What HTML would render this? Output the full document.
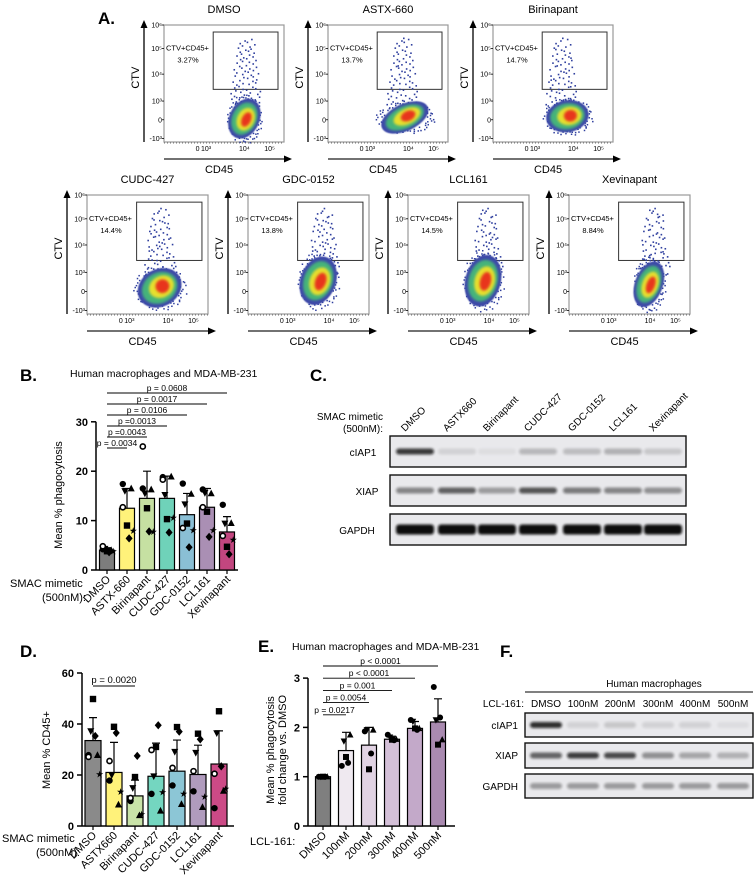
<!DOCTYPE html>
<html><head><meta charset="utf-8">
<style>
html,body{margin:0;padding:0;background:#fff;}
svg{display:block;font-family:"Liberation Sans",Arial,sans-serif;}
</style></head>
<body>
<svg id="fig" width="756" height="880" viewBox="0 0 756 880" xmlns="http://www.w3.org/2000/svg">
<defs>
<filter id="blur2" x="-50%" y="-50%" width="200%" height="200%"><feGaussianBlur stdDeviation="2.2"/></filter>
<filter id="blur1" x="-50%" y="-50%" width="200%" height="200%"><feGaussianBlur stdDeviation="1.2"/></filter>
<filter id="blur05" x="-50%" y="-50%" width="200%" height="200%"><feGaussianBlur stdDeviation="0.6"/></filter>
</defs>
<g id="panelA"></g>
<g id="panelB"></g>
<g id="panelC"></g>
<g id="panelD"></g>
<g id="panelE"></g>
<g id="panelF"></g>
</svg>
<script>
// ---------- Panel B data ----------
const bCategories = ["DMSO","ASTX-660","Birinapant","CUDC-427","GDC-0152","LCL161","Xevinapant"];
const bMeans = [4.0, 12.5, 14.5, 14.5, 11.2, 12.7, 7.7];
const bErrTop = [4.5, 16.5, 20.0, 19.0, 15.5, 16.5, 10.8];
const bColors = ["#7d7d7d","#fff27a","#c6e0a2","#6fd2b9","#8abfd5","#aa8fb4","#c2467f"];
const bPoints = [
 [4.2,3.8,4.0,4.3,3.6,3.9,4.8],
 [17.4,9.0,16.5,16.0,6.4,8.0,12.7],
 [16.5,12.5,16.3,15.5,7.8,7.8,25.0],
 [18.8,10.3,18.9,15.2,7.6,10.6,18.3],
 [17.5,9.4,15.4,13.3,4.6,8.1,8.5],
 [16.3,11.8,15.5,15.6,6.7,8.1,12.7],
 [13.2,4.7,9.5,9.4,3.2,6.2,6.9]
];
const bTicks = [0,10,20,30];
const bPvals = ["p = 0.0608","p = 0.0017","p = 0.0106","p =0.0013","p =0.0043","p = 0.0034"];
const bPTargets = [6,5,4,3,2,1];

// ---------- Panel D data ----------
const dCategories = ["DMSO","ASTX660","Birinapant","CUDC-427","GDC-0152","LCL161","Xevinapant"];
const dMeans = [33.5, 21.0, 11.8, 19.5, 21.5, 20.2, 24.3];
const dErrTop = [42.5, 32.8, 18.0, 32.5, 33.7, 31.7, 37.3];
const dColors = ["#8a8a8a","#fff27a","#c9e3a8","#74d6c0","#8cc6d6","#b09bbd","#cc4a86"];
const dPoints = [
 [27.8,49.8,27.8,37.2,35.3,20.4,27.1],
 [17.8,38.9,8.4,20.0,36.5,13.6,25.5],
 [9.8,19.2,4.2,14.9,27.5,4.8,11.0],
 [12.6,31.0,6.0,19.5,39.5,13.3,29.8],
 [15.9,38.8,8.6,29.1,37.0,12.7,22.8],
 [13.6,36.2,7.4,28.7,34.0,11.5,21.5],
 [7.0,45.0,13.8,36.4,23.4,14.7,20.5]
];
const dTicks = [0,20,40,60];

// ---------- Panel E data ----------
const eCategories = ["DMSO","100nM","200nM","300nM","400nM","500nM"];
const eMeans = [1.0, 1.53, 1.64, 1.76, 1.98, 2.11];
const eErrTop = [1.02, 1.90, 2.00, 1.82, 2.12, 2.58];
const eColors = ["#7f7f7f","#efe9f0","#e1d3e3","#d4c0d8","#c3a9c9","#a98ab0"];
const ePoints = [
 [1.0,1.0,1.0,1.0,1.0],
 [1.22,1.40,1.85,1.72,1.28],
 [1.92,1.15,1.95,1.95,1.47],
 [1.85,1.75,1.76,1.80,1.74],
 [2.15,1.98,1.98,2.12,1.95],
 [2.82,1.65,1.75,2.15,2.20]
];
const eTicks = [0,1,2,3];
const ePvals = ["p < 0.0001","p < 0.0001","p = 0.001","p = 0.0054","p = 0.0217"];
const ePTargets = [5,4,3,2,1];

// ---------- blot data ----------
const cLanes = ["DMSO","ASTX660","Birinapant","CUDC-427","GDC-0152","LCL161","Xevinapant"];
const cCiap1 = [0.8,0.1,0.05,0.22,0.2,0.25,0.15];
const cXiap = [0.45,0.62,0.35,0.68,0.5,0.45,0.4];
const cGapdh = [1,1,1,1,1,1,1];
const fLanes = ["DMSO","100nM","200nM","300nM","400nM","500nM"];
const fCiap1 = [0.85,0.1,0.15,0.1,0.1,0.05];
const fXiap = [0.6,0.78,0.72,0.4,0.3,0.25];
const fGapdh = [0.35,0.35,0.35,0.35,0.35,0.35];

const NS = "http://www.w3.org/2000/svg";
function mk(parent, tag, attrs, text){
  const e = document.createElementNS(NS, tag);
  for (const k in attrs) e.setAttribute(k, attrs[k]);
  if (text !== undefined) e.textContent = text;
  parent.appendChild(e);
  return e;
}
function label(parent, x, y, txt, size, opts){
  opts = opts || {};
  const t = mk(parent, "text", {x:x, y:y, "font-size":size, fill:"#000",
    "text-anchor":opts.anchor||"start", "font-weight":opts.bold?"bold":"normal"}, txt);
  if (opts.rot !== undefined) t.setAttribute("transform", "rotate("+opts.rot+" "+x+" "+y+")");
  return t;
}
function halton(i, b){ let f=1, r=0; while(i>0){ f/=b; r+=f*(i%b); i=Math.floor(i/b);} return r; }

function marker(g, shape, x, y, s){
  let e;
  if (shape === 0) e = mk(g,"circle",{cx:x,cy:y,r:s,fill:"#000"});
  else if (shape === 1) e = mk(g,"rect",{x:x-s,y:y-s,width:2*s,height:2*s,fill:"#000"});
  else if (shape === 2) e = mk(g,"polygon",{points:`${x},${y-s*1.2} ${x-s*1.1},${y+s*0.9} ${x+s*1.1},${y+s*0.9}`,fill:"#000"});
  else if (shape === 3) e = mk(g,"polygon",{points:`${x},${y+s*1.2} ${x-s*1.1},${y-s*0.9} ${x+s*1.1},${y-s*0.9}`,fill:"#000"});
  else if (shape === 4) e = mk(g,"polygon",{points:`${x},${y-s*1.3} ${x+s*1.1},${y} ${x},${y+s*1.3} ${x-s*1.1},${y}`,fill:"#000"});
  else if (shape === 5) e = mk(g,"text",{x:x,y:y+s*1.1,"font-size":s*3,"text-anchor":"middle",fill:"#000"},"★");
  else e = mk(g,"circle",{cx:x,cy:y,r:s*0.8,fill:"#fff",stroke:"#000","stroke-width":1.6});
  
  
}

function barChart(g, cfg){
  const yScale = v => cfg.y0 - (v - 0) * cfg.pxPerUnit;
  const xScale = i => cfg.x0 + i * cfg.step;
  const yAxis = mk(g,"line",{x1:cfg.axisX,y1:yScale(cfg.ticks[cfg.ticks.length-1]),x2:cfg.axisX,y2:cfg.y0,stroke:"#000","stroke-width":1.5});
  
  
  const xAxis = mk(g,"line",{x1:cfg.axisX,y1:cfg.y0,x2:cfg.axisEnd,y2:cfg.y0,stroke:"#000","stroke-width":1.5});
  
  
  cfg.ticks.forEach(t=>{
    mk(g,"line",{x1:cfg.axisX-5,y1:yScale(t),x2:cfg.axisX,y2:yScale(t),stroke:"#000","stroke-width":1.5});
    const tl = label(g, cfg.axisX-8, yScale(t)+4, String(t), 11, {anchor:"end", bold:true});
    
    
  });
  cfg.means.forEach((m,i)=>{
    const cx = xScale(i);
    const bar = mk(g,"rect",{x:cx-cfg.bw/2,y:yScale(m),width:cfg.bw,height:cfg.y0-yScale(m),fill:cfg.colors[i],stroke:"#000","stroke-width":1.2});
    
    
    const et = yScale(cfg.err[i]);
    const eb = mk(g,"path",{d:`M${cx},${yScale(m)} V${et} M${cx-4},${et} H${cx+4}`,stroke:"#000","stroke-width":1.2,fill:"none"});
    
    
    cfg.points[i].forEach((v,j)=>{
      const off = ((j % 3) - 1) * cfg.bw*0.28 + (j>=3 && j<6 ? cfg.bw*0.14 : 0);
      marker(g, cfg.shapes[j], cx + off, yScale(v), cfg.ms);
    });
    mk(g,"line",{x1:cx,y1:cfg.y0,x2:cx,y2:cfg.y0+4,stroke:"#000","stroke-width":1.2});
    const xl = label(g, cx+4, cfg.y0+10, cfg.cats[i], 11, {anchor:"end", rot:-45});
    
    
  });
  return {yScale, xScale};
}

// ---------- Panel A ----------
const A = document.getElementById("panelA");
label(A, 98, 24, "A.", 17, {bold:true});
const flowTitles = ["DMSO","ASTX-660","Birinapant","CUDC-427","GDC-0152","LCL161","Xevinapant"];
const flowPct = ["3.27%","13.7%","14.7%","14.4%","13.8%","14.5%","8.84%"];
const flowBlob = [
 [0.67,0.80,0.12,0.17,25,0.68],
 [0.64,0.79,0.20,0.11,-25,0.62],
 [0.62,0.78,0.17,0.13,-10,0.57],
 [0.60,0.78,0.18,0.15,-30,0.60],
 [0.58,0.72,0.14,0.20,20,0.62],
 [0.62,0.72,0.14,0.21,15,0.65],
 [0.66,0.75,0.11,0.19,20,0.70]
];
function flowPlot(ax, top, w, h, idx){
  const g = mk(A,"g",{});
  
  
  const fl = ax + 20;
  label(g, fl + w/2, top - 12, flowTitles[idx], 11, {anchor:"middle"});
  mk(g,"rect",{x:fl,y:top,width:w,height:h,fill:"none",stroke:"#999","stroke-width":1.2});
  mk(g,"line",{x1:ax,y1:top+h,x2:ax,y2:top,stroke:"#000","stroke-width":1.3});
  mk(g,"polygon",{points:`${ax},${top-5} ${ax-3.5},${top+3} ${ax+3.5},${top+3}`,fill:"#000"});
  const yt = [["10⁶",0],["10⁵",0.2],["10⁴",0.42],["10³",0.65],["0",0.81],["-10³",0.97]];
  yt.forEach(t=>{ label(g, fl-2, top+t[1]*h+2.5, t[0], 7, {anchor:"end"}); mk(g,"line",{x1:fl-2,y1:top+t[1]*h,x2:fl,y2:top+t[1]*h,stroke:"#000","stroke-width":0.8}); });
  const xt = [["0",0.28],["10³",0.35],["10⁴",0.67],["10⁵",0.88]];
  xt.forEach(t=>{ label(g, fl+t[1]*w, top+h+9, t[0], 7, {anchor:"middle"}); });
  mk(g,"line",{x1:fl,y1:top+h+1,x2:fl+w,y2:top+h+1,stroke:"#444","stroke-width":0.8,"stroke-dasharray":"1 2"});
  mk(g,"line",{x1:fl,y1:top+h+17,x2:fl+w+2,y2:top+h+17,stroke:"#444","stroke-width":1.5});
  mk(g,"polygon",{points:`${fl+w+8},${top+h+17} ${fl+w},${top+h+13.5} ${fl+w},${top+h+20.5}`,fill:"#000"});
  label(g, fl + w/2 - 5, top+h+31, "CD45", 11, {anchor:"middle"});
  label(g, ax-5, top + h*0.45, "CTV", 11, {anchor:"middle", rot:-90});
  const gate = mk(g,"rect",{x:fl+0.41*w,y:top+0.06*h,width:0.54*w,height:0.49*h,fill:"none",stroke:"#333","stroke-width":1});
  
  
  label(g, fl+2, top+0.22*h, "CTV+CD45+", 7.5);
  label(g, fl+24, top+0.32*h, flowPct[idx], 7.5, {anchor:"middle"});
  const b = flowBlob[idx];
  const cx = fl + b[0]*w, cy = top + b[1]*h, rx = b[2]*w, ry = b[3]*h;
  // diffuse tail cloud (low-discrepancy Halton placement)
  for (let k=1+idx*7;k<=75+idx*7;k++){
    const u = halton(k,2), v = halton(k,3);
    const vv = Math.pow(v, 0.8);
    const py = top + 0.10*h + vv*0.58*h;
    const spread = 0.05*w + (py - top)/h*0.14*w;
    const px = fl + b[5]*w + (u-0.5)*2*spread;
    mk(g,"rect",{x:px,y:py,width:1.6,height:1.6,fill:"#2f3f9e"});
  }
  for (let k=1;k<=70;k++){
    const u = halton(k+idx*11,2), v = halton(k+idx*11,3);
    const ang = u*6.2832, rr = 0.9 + v*0.35;
    mk(g,"rect",{x:cx+Math.cos(ang)*rx*rr,y:cy+Math.sin(ang)*ry*rr,width:1.5,height:1.5,fill:"#2f3f9e"});
  }
  const dg = mk(g,"g",{transform:`rotate(${b[4]} ${cx} ${cy})`});
  mk(dg,"ellipse",{cx:cx,cy:cy,rx:rx*1.05,ry:ry*1.05,fill:"#3c4aa8",filter:"url(#blur05)"});
  mk(dg,"ellipse",{cx:cx,cy:cy,rx:rx*0.85,ry:ry*0.85,fill:"#45b37a",filter:"url(#blur1)"});
  mk(dg,"ellipse",{cx:cx+rx*0.1,cy:cy,rx:rx*0.6,ry:ry*0.6,fill:"#e6df2e",filter:"url(#blur1)"});
  mk(dg,"ellipse",{cx:cx+rx*0.15,cy:cy,rx:rx*0.32,ry:ry*0.38,fill:"#e8361a",filter:"url(#blur1)"});
}
[144,308,473].forEach((ax,i)=>flowPlot(ax,25,120,117,i));
[67,228,388,549].forEach((ax,i)=>flowPlot(ax,195,121,119,i+3));

// ---------- Panel B ----------
const B = document.getElementById("panelB");
label(B, 20, 381, "B.", 17, {bold:true});
label(B, 70, 377, "Human macrophages and MDA-MB-231", 10.5);
const bc = barChart(B, {axisX:96, axisEnd:238, y0:570, pxPerUnit:49.4/10, x0:107, step:20, bw:15, ms:3.2,
  ticks:bTicks, means:bMeans, err:bErrTop, colors:bColors, points:bPoints, cats:bCategories, shapes:[0,1,2,3,4,5,6]});
bPvals.forEach((p,k)=>{
  const y = 393 + k*11;
  const x1 = bc.xScale(0), x2 = bc.xScale(bPTargets[k]);
  const pl = mk(B,"line",{x1:x1,y1:y,x2:x2,y2:y,stroke:"#000","stroke-width":0.9});
  
  
  label(B, (x1+x2)/2, y-2, p, 8.5, {anchor:"middle"});
});
label(B, 62, 495, "Mean % phagocytosis", 11, {anchor:"middle", rot:-90});
label(B, 10, 587, "SMAC mimetic", 11);
label(B, 86, 601, "(500nM):", 11, {anchor:"end"});

function blot(g, x, y, w, h, centers, bw, vals, name, dark){
  const r = mk(g,"rect",{x:x,y:y,width:w,height:h,fill:"#e9e9ec",stroke:"#111","stroke-width":1.4});
  
  
  vals.forEach((v,i)=>{
    const band = mk(g,"rect",{x:centers[i]-bw/2,y:y+h*0.5-(dark?5:3),width:bw,height:dark?10:6,rx:3,fill:"#111",opacity:v,filter:"url(#blur1)"});
    
    
  });
}

// ---------- Panel C ----------
const C = document.getElementById("panelC");
label(C, 310, 381, "C.", 17, {bold:true});
label(C, 383, 420, "SMAC mimetic", 10, {anchor:"end"});
label(C, 383, 432, "(500nM):", 10, {anchor:"end"});
const cCenters = [415,457,497,538,582,623,663];
cLanes.forEach((l,i)=>{ label(C, cCenters[i]-10, 432, l, 10, {rot:-45}); });
blot(C, 390, 436, 296, 31, cCenters, 38, cCiap1, "blot-ciap1", false);
blot(C, 390, 475, 296, 31, cCenters, 38, cXiap, "blot-xiap", false);
blot(C, 390, 514, 296, 31, cCenters, 38, cGapdh, "blot-gapdh", true);
label(C, 363, 456, "cIAP1", 10, {anchor:"middle"});
label(C, 367, 495, "XIAP", 10, {anchor:"middle"});
label(C, 357, 534, "GAPDH", 10, {anchor:"middle"});

// ---------- Panel D ----------
const D = document.getElementById("panelD");
label(D, 20, 657, "D.", 17, {bold:true});
const dc = barChart(D, {axisX:82, axisEnd:234, y0:826, pxPerUnit:153/60, x0:93, step:21, bw:16, ms:3.2,
  ticks:dTicks, means:dMeans, err:dErrTop, colors:dColors, points:dPoints, cats:dCategories, shapes:[0,1,2,3,4,5,6]});
const dp = mk(D,"line",{x1:dc.xScale(0),y1:686,x2:dc.xScale(2),y2:686,stroke:"#000","stroke-width":0.9});


label(D, (dc.xScale(0)+dc.xScale(2))/2, 683, "p = 0.0020", 9.5, {anchor:"middle"});
label(D, 50, 750, "Mean % CD45+", 11, {anchor:"middle", rot:-90});
label(D, 2, 842, "SMAC mimetic", 11);
label(D, 80, 856, "(500nM):", 11, {anchor:"end"});

// ---------- Panel E ----------
const E = document.getElementById("panelE");
label(E, 258, 652, "E.", 17, {bold:true});
label(E, 292, 650, "Human macrophages and MDA-MB-231", 10.5);
const ec = barChart(E, {axisX:308, axisEnd:455, y0:826, pxPerUnit:49.3, x0:323, step:23, bw:15, ms:3,
  ticks:eTicks, means:eMeans, err:eErrTop, colors:eColors, points:ePoints, cats:eCategories, shapes:[0,1,2,3,0]});
ePvals.forEach((p,k)=>{
  const y = 666 + k*12.2;
  const x1 = ec.xScale(0), x2 = ec.xScale(ePTargets[k]);
  const pl = mk(E,"line",{x1:x1,y1:y,x2:x2,y2:y,stroke:"#000","stroke-width":0.9});
  
  
  label(E, (x1+x2)/2, y-2, p, 8.5, {anchor:"middle"});
});
label(E, 274, 750, "Mean % phagocytosis", 11, {anchor:"middle", rot:-90});
label(E, 286, 750, "fold change vs. DMSO", 11, {anchor:"middle", rot:-90});
label(E, 250, 845, "LCL-161:", 11);

// ---------- Panel F ----------
const F = document.getElementById("panelF");
label(F, 500, 657, "F.", 17, {bold:true});
label(F, 654, 687, "Human macrophages", 10, {anchor:"middle"});
mk(F,"line",{x1:525,y1:692,x2:753,y2:692,stroke:"#000","stroke-width":0.9});
label(F, 524, 707, "LCL-161:", 10, {anchor:"end"});
const fCenters = [546,583,620,658,695,733];
fLanes.forEach((l,i)=>{ label(F, fCenters[i], 707, l, 10, {anchor:"middle"}); });
blot(F, 525, 713, 228, 24, fCenters, 32, fCiap1, "blot-f-ciap1", false);
blot(F, 525, 743, 228, 25, fCenters, 32, fXiap, "blot-f-xiap", false);
blot(F, 525, 774, 228, 24, fCenters, 32, fGapdh, "blot-f-gapdh", false);
label(F, 518, 729, "cIAP1", 10, {anchor:"end"});
label(F, 518, 759, "XIAP", 10, {anchor:"end"});
label(F, 518, 790, "GAPDH", 10, {anchor:"end"});
</script>
</body></html>
